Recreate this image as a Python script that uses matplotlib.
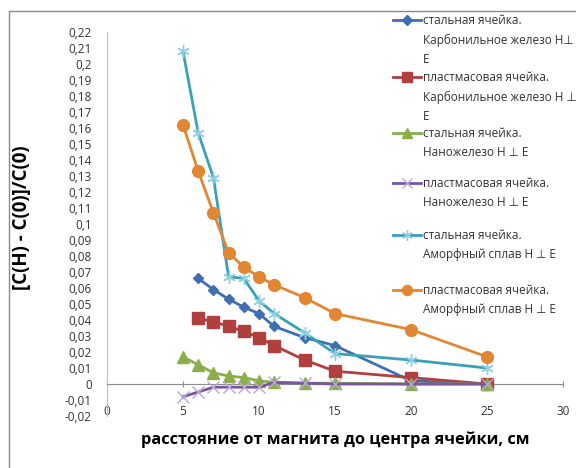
import matplotlib.pyplot as plt
from matplotlib.lines import Line2D
from matplotlib.patches import Rectangle
from matplotlib.ticker import FuncFormatter, MultipleLocator

plt.rcParams['font.family'] = ['Open Sans', 'DejaVu Sans']

# distance from magnet to cell centre, cm
x_carbonyl = [6, 7, 8, 9, 10, 11, 13, 15, 20, 25]
x_other = [5, 6, 7, 8, 9, 10, 11, 13, 15, 20, 25]

steel_carbonyl = [0.066, 0.059, 0.053, 0.048, 0.044, 0.036, 0.029, 0.024, 0.002, 0.0]
plastic_carbonyl = [0.041, 0.039, 0.036, 0.033, 0.029, 0.024, 0.015, 0.008, 0.004, 0.0]
steel_nano = [0.017, 0.012, 0.007, 0.005, 0.004, 0.002, 0.001, 0.0005, 0.0005, 0.0, 0.0]
plastic_nano = [-0.008, -0.005, -0.002, -0.002, -0.002, -0.002, 0.001, 0.0005, 0.0, 0.0, 0.0]
steel_amorph = [0.208, 0.157, 0.129, 0.067, 0.066, 0.052, 0.044, 0.032, 0.019, 0.015, 0.010]
plastic_amorph = [0.162, 0.133, 0.107, 0.082, 0.073, 0.067, 0.062, 0.054, 0.044, 0.034, 0.017]

labels = [
    'стальная ячейка.\nКарбонильное железо H⊥\nE',
    'пластмасовая ячейка.\nКарбонильное железо H ⊥\nE',
    'стальная ячейка.\nНаножелезо H ⊥ E',
    'пластмасовая ячейка.\nНаножелезо H ⊥ E',
    'стальная ячейка.\nАморфный сплав H ⊥ E',
    'пластмасовая ячейка.\nАморфный сплав H ⊥ E',
]

W, H = 576, 468


def fig_xy(px, py):
    # pixel position (from top-left) -> figure fraction
    return px / W, 1 - py / H


fig = plt.figure(figsize=(W / 100, H / 100), dpi=100)
ax = fig.add_axes([107 / W, 1 - 416 / H, (563 - 107) / W, (416 - 32) / H])

series = [
    (x_carbonyl, steel_carbonyl, dict(color='#3F6FB0', marker='D', ms=5.5, mfc='#3F6FB0', mec='#3F6FB0')),
    (x_carbonyl, plastic_carbonyl, dict(color='#B0403E', marker='s', ms=8, mfc='#B0403E', mec='#B0403E')),
    (x_other, steel_nano, dict(color='#8AAE4A', marker='^', ms=8, mfc='#8AAE4A', mec='#8AAE4A')),
    (x_other, plastic_nano, dict(color='#7A55A0', marker='x', ms=8, mfc='none', mec='#B9A6D6', mew=1)),
    (x_other, steel_amorph, dict(color='#3BA0B8', marker=(6, 2, 0), ms=9, mfc='none', mec='#8ED0E0', mew=1)),
    (x_other, plastic_amorph, dict(color='#E38634', marker='o', ms=8.5, mfc='#E38634', mec='#E38634')),
]

for xs, ys, style in series:
    ax.plot(xs, ys, lw=2, clip_on=False, zorder=3, **style)

ax.set_xlim(0, 30)
ax.set_ylim(-0.02, 0.22)
ax.xaxis.set_major_locator(MultipleLocator(5))
ax.yaxis.set_major_locator(MultipleLocator(0.01))


def comma_fmt(v, pos):
    s = f'{v:.2f}'.rstrip('0').rstrip('.')
    if s in ('-0', ''):
        s = '0'
    return s.replace('.', ',')


ax.yaxis.set_major_formatter(FuncFormatter(comma_fmt))
ax.xaxis.set_major_formatter(FuncFormatter(lambda v, p: f'{v:.0f}'))

for side in ('top', 'right'):
    ax.spines[side].set_visible(False)
ax.spines['bottom'].set_position(('data', 0))
ax.spines['bottom'].set_color('#8c8c8c')
ax.spines['left'].set_color('#bfbfbf')
ax.tick_params(axis='y', length=0, pad=11, labelsize=8.5, colors='#333333')
ax.tick_params(axis='x', direction='inout', length=4, color='#8c8c8c', pad=13,
               labelsize=8.5, labelcolor='#333333')

# axis titles
fig.text(*fig_xy(22, 218), '[C(H) - C(0)]/C(0)', rotation=90, ha='center', va='center',
         fontsize=13.5, fontweight='bold')
fig.text(*fig_xy(335, 440), 'расстояние от магнита до центра ячейки, см', ha='center',
         va='center', fontsize=11.8, fontweight='bold')

# legend drawn on the right, each handle level with the first line of its text
legend_rows = [20, 77, 133, 183, 235, 290]
for (xs, ys, style), label, row in zip(series, labels, legend_rows):
    hx0, hy = fig_xy(393, row)
    hx1, _ = fig_xy(421, row)
    hm, _ = fig_xy(407, row)
    fig.add_artist(Line2D([hx0, hx1], [hy, hy], transform=fig.transFigure, lw=2,
                          color=style['color']))
    fig.add_artist(Line2D([hm], [hy], transform=fig.transFigure, ls='none',
                          marker=style['marker'], ms=style['ms'] * 0.85,
                          mfc=style['mfc'], mec=style['mec'], mew=style.get('mew', 1)))
    tx, ty = fig_xy(423, row - 6)
    fig.text(tx, ty, label, ha='left', va='top', fontsize=8.5, linespacing=1.6,
             color='#333333')

# outer chart frame
x0, y0 = fig_xy(9, 11)
fig.add_artist(Rectangle((x0, -0.1), 1.2, y0 + 0.1, transform=fig.transFigure,
                         fill=False, ec='#8c8c8c', lw=1))

fig.savefig('out.png', dpi=100)
